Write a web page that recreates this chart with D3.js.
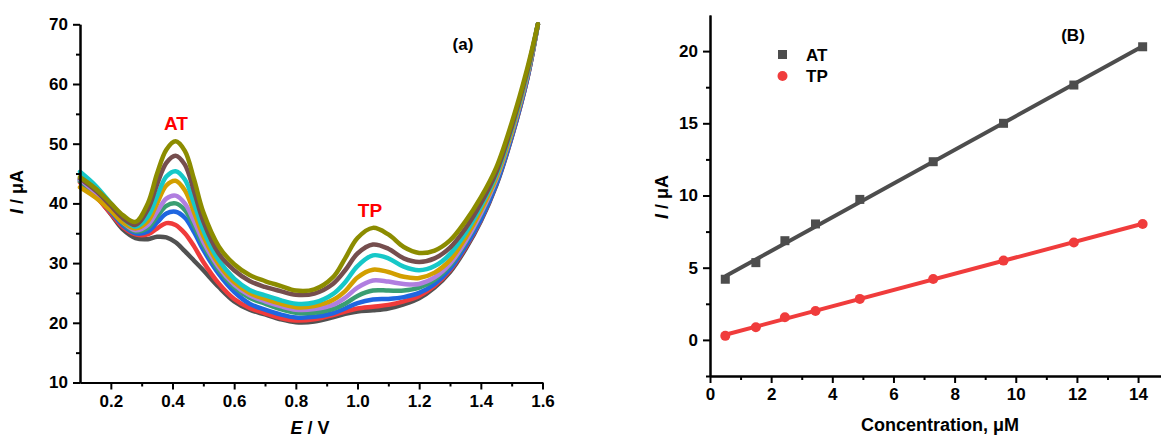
<!DOCTYPE html>
<html>
<head>
<meta charset="utf-8">
<script src="https://cdn.jsdelivr.net/npm/d3@7"></script>
<style>
  body { margin: 0; background: #fff; }
  svg { display: block; font-family: "Liberation Sans", Arial, sans-serif; font-weight: bold; }
  .axis path, .axis line { stroke: #000; stroke-width: 2; }
  .axis text { font-size: 17px; font-weight: bold; fill: #000; }
</style>
</head>
<body>
<svg width="1161" height="439"></svg>
<script>
// ---------- panel (a) : DPV curves ----------
var potential = [0.10, 0.15, 0.20, 0.24, 0.28, 0.32, 0.35, 0.38, 0.41, 0.44, 0.47, 0.50, 0.55, 0.60, 0.65, 0.70, 0.75, 0.80,
                 0.86, 0.92, 0.96, 1.00, 1.05, 1.10, 1.15, 1.20, 1.25, 1.30, 1.35, 1.40, 1.45, 1.50, 1.55, 1.585];

var curveGray   = [44.0, 41.4, 38.2, 35.6, 34.2, 34.0, 34.4, 34.3, 33.5, 32.0, 30.4, 28.8, 26.0, 23.6, 22.2, 21.4, 20.6, 20.1,
                   20.2, 20.9, 21.5, 21.9, 22.1, 22.4, 23.1, 24.1, 25.9, 28.5, 32.3, 37.0, 43.0, 51.0, 60.7, 70.0];
var curveRed    = [43.5, 41.2, 38.3, 36.0, 34.8, 34.8, 35.8, 36.7, 36.4, 35.0, 32.8, 30.2, 26.6, 24.0, 22.5, 21.6, 20.8, 20.4,
                   20.6, 21.3, 21.9, 22.4, 22.7, 23.0, 23.6, 24.5, 26.2, 28.8, 32.6, 37.2, 43.2, 51.2, 60.8, 70.0];
var curveBlue   = [43.8, 41.5, 38.6, 36.3, 35.0, 35.3, 36.8, 38.3, 38.6, 37.6, 35.2, 32.2, 28.2, 25.2, 23.2, 22.2, 21.4, 20.9,
                   21.0, 21.6, 22.4, 23.3, 23.9, 24.0, 24.3, 25.0, 26.5, 29.0, 32.8, 37.3, 43.2, 51.2, 60.8, 70.0];
var curveGreen  = [43.7, 41.6, 38.8, 36.6, 35.3, 35.9, 37.8, 39.6, 40.0, 38.9, 36.2, 33.0, 28.8, 26.0, 24.2, 23.2, 22.3, 21.7,
                   21.7, 22.3, 23.2, 24.5, 25.4, 25.4, 25.4, 25.9, 27.2, 29.6, 33.4, 38.1, 43.9, 51.7, 61.2, 70.0];
var curvePurple = [44.0, 41.8, 39.0, 36.8, 35.5, 36.4, 38.6, 40.8, 41.3, 40.0, 37.0, 33.6, 29.3, 26.4, 24.6, 23.6, 22.8, 22.2,
                   22.3, 23.0, 24.2, 25.9, 27.1, 26.9, 26.5, 26.5, 27.6, 29.9, 33.6, 38.3, 44.0, 51.8, 61.3, 70.0];
var curveGold   = [42.7, 41.0, 38.8, 36.8, 35.8, 37.0, 40.0, 43.0, 43.8, 42.2, 38.5, 34.5, 29.8, 26.8, 25.0, 24.0, 23.2, 22.6,
                   22.8, 23.8, 25.3, 27.6, 28.9, 28.5, 27.7, 27.5, 28.4, 30.5, 34.2, 38.8, 44.3, 52.0, 61.5, 70.0];
var curveCyan   = [45.3, 43.0, 40.0, 37.5, 36.1, 37.8, 41.2, 44.5, 45.4, 44.0, 40.0, 35.5, 30.5, 27.4, 25.5, 24.6, 23.8, 23.2,
                   23.4, 24.8, 26.8, 29.5, 31.3, 30.8, 29.4, 28.8, 29.5, 31.5, 35.0, 39.5, 44.8, 52.5, 61.8, 70.0];
var curveBrown  = [44.2, 42.2, 39.6, 37.5, 36.4, 39.0, 43.2, 46.8, 48.0, 46.5, 42.0, 37.0, 31.6, 28.8, 27.0, 26.0, 25.3, 24.7,
                   24.9, 26.5, 28.8, 31.6, 33.1, 32.4, 30.8, 30.2, 30.8, 32.6, 35.8, 40.0, 45.2, 52.8, 62.0, 70.0];
var curveOlive  = [44.4, 42.5, 40.0, 38.0, 36.9, 40.0, 45.0, 49.0, 50.4, 48.8, 44.0, 38.5, 32.8, 29.8, 28.0, 27.0, 26.2, 25.4,
                   25.6, 27.6, 30.8, 34.2, 35.9, 34.8, 32.7, 31.7, 32.1, 33.8, 37.0, 41.0, 46.0, 53.5, 62.5, 70.0];

var curvesA = [curveGray, curveRed, curveBlue, curveGreen, curvePurple, curveGold, curveCyan, curveBrown, curveOlive];
var colorsA = ['#515151', '#f03b3b', '#1f66e0', '#3a9e72', '#b07ee0', '#d29f00', '#16c8c8', '#754e4e', '#8c8c00'];

var xTicksA = [0.2, 0.4, 0.6, 0.8, 1.0, 1.2, 1.4, 1.6];
var xMinorA = [0.3, 0.5, 0.7, 0.9, 1.1, 1.3, 1.5];
var yTicksA = [10, 20, 30, 40, 50, 60, 70];
var yMinorA = [15, 25, 35, 45, 55, 65];

// ---------- panel (B) : calibration ----------
var conc   = [0.5, 1.5, 2.45, 3.45, 4.9, 7.3, 9.6, 11.9, 14.15];
var atVals = [4.2, 5.35, 6.87, 8.03, 9.73, 12.34, 15.0, 17.65, 20.3];
var tpVals = [0.28, 0.88, 1.57, 2.0, 2.84, 4.22, 5.49, 6.74, 8.03];

var xTicksB = [0, 2, 4, 6, 8, 10, 12, 14];
var xMinorB = [1, 3, 5, 7, 9, 11, 13];
var yTicksB = [0, 5, 10, 15, 20];
var yMinorB = [-2.5, 2.5, 7.5, 12.5, 17.5];

var svg = d3.select('svg');

function axisLines(g, axisFn, scale, major, minor, fmt) {
  g.append('g').attr('class', 'axis')
    .call(axisFn(scale).tickValues(minor).tickSize(4).tickSizeOuter(0).tickFormat(''));
  g.append('g').attr('class', 'axis')
    .call(axisFn(scale).tickValues(major).tickSize(7).tickSizeOuter(0).tickPadding(5).tickFormat(fmt));
}

function yLabel(x, y) {
  var t = svg.append('text')
    .attr('transform', 'translate(' + x + ',' + y + ') rotate(-90)')
    .attr('text-anchor', 'middle')
    .style('font-size', '18px');
  t.append('tspan').style('font-style', 'italic').text('I');
  t.append('tspan').text(' / μA');
}

// ----- panel (a)
var xA = d3.scaleLinear().domain([0.1, 1.6]).range([80, 542.5]);
var yA = d3.scaleLinear().domain([10, 70]).range([382.5, 24.3]);

var lineA = d3.line()
  .x(function(d, i) { return xA(potential[i]); })
  .y(function(d) { return yA(d); })
  .curve(d3.curveCatmullRom.alpha(0.5));

svg.append('g').selectAll('path')
  .data(curvesA)
  .join('path')
  .attr('d', lineA)
  .attr('fill', 'none')
  .attr('stroke', function(d, i) { return colorsA[i]; })
  .attr('stroke-width', 4.5)
  .attr('stroke-linecap', 'round')
  .attr('stroke-linejoin', 'round');

axisLines(svg.append('g').attr('transform', 'translate(0,382.5)'), d3.axisBottom, xA, xTicksA, xMinorA, d3.format('.1f'));
axisLines(svg.append('g').attr('transform', 'translate(80,0)'), d3.axisLeft, yA, yTicksA, yMinorA, d3.format('d'));

yLabel(23, 192);
var ex = svg.append('text').attr('x', 310).attr('y', 434).attr('text-anchor', 'middle').style('font-size', '18px');
ex.append('tspan').style('font-style', 'italic').text('E');
ex.append('tspan').text(' / V');

svg.append('text').attr('x', 463).attr('y', 50).attr('text-anchor', 'middle').style('font-size', '17px').text('(a)');
svg.append('text').attr('x', 176).attr('y', 129.5).attr('text-anchor', 'middle').style('font-size', '19px').attr('fill', '#ff0000').text('AT');
svg.append('text').attr('x', 370).attr('y', 217).attr('text-anchor', 'middle').style('font-size', '19px').attr('fill', '#ff0000').text('TP');

// ----- panel (B)
var xB = d3.scaleLinear().domain([0, 14.75]).range([710, 1161]);
var yB = d3.scaleLinear().domain([-2.5, 22.5]).range([376, 15]);

axisLines(svg.append('g').attr('transform', 'translate(0,376)'), d3.axisBottom, xB, xTicksB, xMinorB, d3.format('d'));
axisLines(svg.append('g').attr('transform', 'translate(710,0)'), d3.axisLeft, yB, yTicksB, yMinorB, d3.format('d'));

// least squares fit for the straight lines
function fit(xs, ys) {
  var mx = d3.mean(xs), my = d3.mean(ys);
  var sxy = d3.sum(xs, function(x, i) { return (x - mx) * (ys[i] - my); });
  var sxx = d3.sum(xs, function(x) { return (x - mx) * (x - mx); });
  var b = sxy / sxx;
  return { b: b, a: my - b * mx };
}

var seriesB = [
  { vals: atVals, color: '#4d4d4d', shape: 'square' },
  { vals: tpVals, color: '#f03c3c', shape: 'circle' }
];

seriesB.forEach(function(s) {
  var f = fit(conc, s.vals);
  var x0 = conc[0], x1 = conc[conc.length - 1];
  svg.append('line')
    .attr('x1', xB(x0)).attr('y1', yB(f.a + f.b * x0))
    .attr('x2', xB(x1)).attr('y2', yB(f.a + f.b * x1))
    .attr('stroke', s.color).attr('stroke-width', 4);
  var g = svg.append('g');
  if (s.shape == 'square') {
    g.selectAll('rect').data(s.vals).join('rect')
      .attr('x', function(d, i) { return xB(conc[i]) - 4.5; })
      .attr('y', function(d) { return yB(d) - 4.5; })
      .attr('width', 9).attr('height', 9)
      .attr('fill', s.color);
  } else {
    g.selectAll('circle').data(s.vals).join('circle')
      .attr('cx', function(d, i) { return xB(conc[i]); })
      .attr('cy', function(d) { return yB(d); })
      .attr('r', 5)
      .attr('fill', s.color);
  }
});

// legend
svg.append('rect').attr('x', 778).attr('y', 50).attr('width', 9).attr('height', 9).attr('fill', '#4d4d4d');
svg.append('text').attr('x', 806).attr('y', 60.5).style('font-size', '17px').text('AT');
svg.append('circle').attr('cx', 782.5).attr('cy', 76).attr('r', 5).attr('fill', '#f03c3c');
svg.append('text').attr('x', 806).attr('y', 82).style('font-size', '17px').text('TP');

svg.append('text').attr('x', 1073).attr('y', 41).attr('text-anchor', 'middle').style('font-size', '17px').text('(B)');

yLabel(668, 197);
svg.append('text').attr('x', 940).attr('y', 431).attr('text-anchor', 'middle').style('font-size', '18px').text('Concentration, μM');
</script>
</body>
</html>
